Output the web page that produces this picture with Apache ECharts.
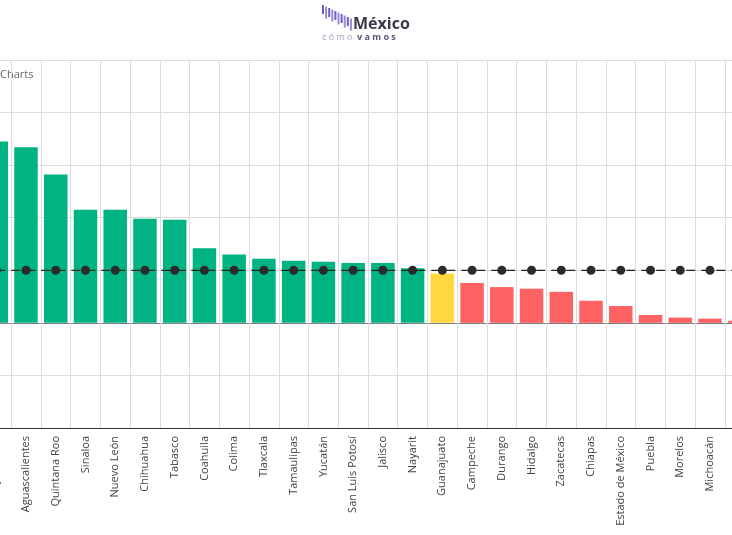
<!DOCTYPE html>
<html>
<head>
<meta charset="utf-8">
<script src="https://cdn.jsdelivr.net/npm/echarts@6/dist/echarts.min.js"></script>
<style>html,body{margin:0;padding:0;background:#fff}#c{width:732px;height:535px}</style>
</head>
<body>
<div id="c"></div>
<script>
const categories = ["Querétaro","Aguascalientes","Quintana Roo","Sinaloa","Nuevo León","Chihuahua","Tabasco","Coahuila","Colima","Tlaxcala","Tamaulipas","Yucatán","San Luis Potosí","Jalisco","Nayarit","Guanajuato","Campeche","Durango","Hidalgo","Zacatecas","Chiapas","Estado de México","Puebla","Morelos","Michoacán","Oaxaca"];
const values = [3.45,3.34,2.82,2.15,2.15,1.98,1.96,1.42,1.30,1.22,1.18,1.16,1.14,1.14,1.04,0.94,0.76,0.68,0.65,0.59,0.42,0.32,0.15,0.10,0.08,0.04];
const status = ["up","up","up","up","up","up","up","up","up","up","up","up","up","up","up","mid","down","down","down","down","down","down","down","down","down","down"];
const reference = [1,1,1,1,1,1,1,1,1,1,1,1,1,1,1,1,1,1,1,1,1,1,1,1,1,1];
const statusColors = {up:"#00b383", mid:"#ffd83f", down:"#ff6262"};

const chart = echarts.init(document.getElementById('c'));
const logoBars = [];
for (let i = 0; i < 10; i++) {
  logoBars.push({type:'rect', shape:{x:322 + i*3.1, y:5 + i*1.5, width:2, height:9 + (i%2)*3}, style:{fill: i%2 ? '#948ad8' : '#6a5fc0'}});
}
chart.setOption({
  animation:false,
  grid:{left:-18.6, right:-22.6, top:60, bottom:107, outerBoundsMode:'none', containLabel:false},
  xAxis:{
    type:'category', data:categories,
    axisLine:{onZero:false, lineStyle:{color:'#333', width:1}},
    axisTick:{alignWithLabel:true, length:5, lineStyle:{color:'#333'}},
    splitLine:{show:true, lineStyle:{color:'#dcdcdc'}},
    axisLabel:{rotate:90, fontSize:11, color:'#444', margin:8, fontFamily:'Open Sans', interval:0}
  },
  yAxis:{
    type:'value', min:-2, max:5, interval:1,
    axisLabel:{show:false}, axisLine:{show:false}, axisTick:{show:false},
    splitLine:{lineStyle:{color:['#dcdcdc','#dcdcdc','#808080','#dcdcdc','#dcdcdc','#dcdcdc','#dcdcdc','#dcdcdc']}}
  },
  series:[
    {type:'bar', data:values.map((v,i)=>({value:v, itemStyle:{color:statusColors[status[i]]}})), barCategoryGap:'21%'},
    {type:'line', data:reference, symbol:'circle', symbolSize:9,
     itemStyle:{color:'#2b2b2b'}, lineStyle:{color:'#222', width:1.3, type:[9,6]}, z:5}
  ],
  graphic:[
    {type:'text', left:0, top:69, style:{text:'Charts', fontSize:11, fill:'#666', fontFamily:'Open Sans'}},
    ...logoBars,
    {type:'text', left:353, top:16, style:{text:'México', fontSize:16, fontWeight:'bold', fill:'#3b3a4a', fontFamily:'Open Sans'}},
    {type:'text', left:322, top:33, style:{text:'c ó m o', fontSize:9, fill:'#a29fc4', fontFamily:'Open Sans'}},
    {type:'text', left:357, top:33, style:{text:'v a m o s', fontSize:9, fontWeight:'bold', fill:'#56557a', fontFamily:'Open Sans'}}
  ]
});
</script>
</body>
</html>
